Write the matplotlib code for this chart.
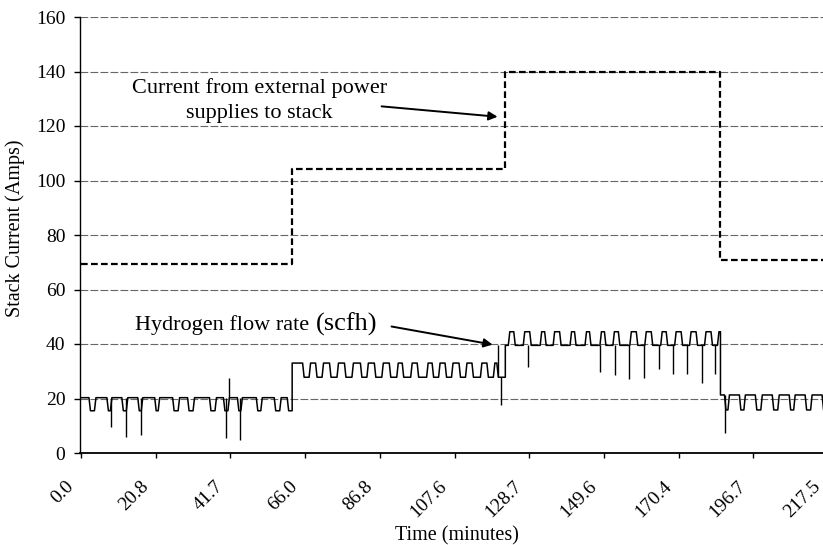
import matplotlib
matplotlib.use("Agg")
import matplotlib.pyplot as plt
from matplotlib.transforms import ScaledTranslation

plt.rcParams["font.family"] = ["Liberation Serif", "DejaVu Serif"]

# x axis is sample number; a tick every 75 samples, labelled with elapsed time
tick_pos = [0, 75, 150, 225, 300, 375, 450, 525, 600, 675, 750]
tick_lbl = ["0.0", "20.8", "41.7", "66.0", "86.8", "107.6", "128.7", "149.6", "170.4", "196.7", "217.5"]

# current from external power supplies (step changes)
cur_x = [0, 212, 426, 642, 760]
cur_y = [69.5, 104.3, 140.0, 70.7, 70.7]

# hydrogen flow: four plateaus, each with periodic notches / bumps
seg_start = [0, 212, 426, 642]
seg_end = [212, 426, 642, 760]
seg_base = [20.3, 27.8, 39.5, 21.3]
seg_alt = [15.5, 33.0, 44.5, 15.8]
seg1_spans = [(8, 15), (26, 31), (41, 47), (57, 62), (74, 79), (92, 99), (107, 114),
              (129, 136), (143, 149), (157, 162), (176, 182), (194, 201), (207, 212)]
seg2_spans = [(212, 224), (229, 237), (242, 251), (257, 266), (272, 282), (287, 296),
              (302, 311), (317, 324), (331, 339), (347, 354), (359, 367), (372, 381),
              (386, 394), (401, 409), (414, 419)]
seg3_spans = [(429, 436), (444, 452), (461, 467), (474, 482), (491, 497), (506, 512),
              (521, 527), (534, 541), (551, 559), (566, 574), (582, 589), (596, 604),
              (611, 619), (626, 634), (639, 642)]
seg4_spans = [(646, 651), (661, 667), (677, 684), (694, 701), (711, 717), (727, 734), (744, 750)]

# single-sample spikes in the flow signal
spike_x = [30, 45, 60, 146, 149, 160, 419, 422, 449, 521, 536, 550, 565, 580, 594, 608, 623, 637, 647]
spike_y = [9.5, 5.9, 6.6, 5.5, 27.5, 4.8, 39.5, 17.6, 31.6, 29.7, 28.6, 27.0, 27.5, 31.0, 29.0, 29.0, 25.7, 29.0, 7.5]


def wave(x0, x1, base, alt, spans, r=1.5):
    xs, ys = [x0], [base]
    for a, b in spans:
        if a <= x0:
            ys[0] = alt
        else:
            xs += [a, a + r]; ys += [base, alt]
        if b >= x1:
            xs.append(x1); ys.append(alt)
            return xs, ys
        xs += [b - r, b]; ys += [alt, base]
    xs.append(x1); ys.append(base)
    return xs, ys


fx, fy = [], []
for s0, s1, b, a, sp in zip(seg_start, seg_end, seg_base, seg_alt,
                            [seg1_spans, seg2_spans, seg3_spans, seg4_spans]):
    xs, ys = wave(s0, s1, b, a, sp)
    fx += xs; fy += ys

spike_from = []
for x in spike_x:
    for s0, s1, b in zip(seg_start, seg_end, seg_base):
        if s0 <= x < s1:
            spike_from.append(b)

fig = plt.figure(figsize=(8.23, 5.45), dpi=100)
ax = fig.add_axes([80 / 823, 92 / 545, 758 / 823, 436 / 545])

ax.plot(fx, fy, color="black", lw=1.1, zorder=3)
ax.vlines(spike_x, spike_from, spike_y, color="black", lw=1.0, zorder=3)
ax.step(cur_x, cur_y, where="post", color="black", lw=1.6, ls=(0, (3, 1.5)), zorder=3)

ax.set_xlim(-1, 760)
ax.set_ylim(0, 160)
ax.set_yticks(range(0, 161, 20))
ax.set_xticks(tick_pos)
ax.set_xticklabels([])
# rotated time labels, drawn by hand so they can sit left of their ticks
off = ScaledTranslation(-16 / 100, -25 / 100, fig.dpi_scale_trans)
for p, lbl in zip(tick_pos, tick_lbl):
    ax.text(p, 0, lbl, transform=ax.get_xaxis_transform() + off, fontsize=14,
            rotation=45, ha="right", va="top", rotation_mode="anchor", clip_on=False)
ax.tick_params(axis="y", labelsize=14, length=4.5, width=1, pad=6)
ax.tick_params(axis="x", length=3.5, width=1)

ax.yaxis.grid(True, color="#666666", lw=0.8, ls=(0, (7, 2)))
ax.set_axisbelow(True)
for sp in ("top", "right"):
    ax.spines[sp].set_visible(False)
ax.spines["left"].set_linewidth(1.0)
ax.spines["bottom"].set_linewidth(1.3)

ax.set_ylabel("Stack Current (Amps)", fontsize=14.5)
ax.yaxis.set_label_coords(-0.072, 0.516)
ax.set_xlabel("Time (minutes)", fontsize=14.5)
ax.xaxis.set_label_coords(0.497, -0.167)

# annotations
ax.text(179, 132.1, "Current from external power", fontsize=16, ha="center", va="baseline")
ax.text(179, 122.9, "supplies to stack", fontsize=16, ha="center", va="baseline")
ax.annotate("", xy=(421, 123.3), xytext=(299, 127.3),
            arrowprops=dict(arrowstyle="-|>", color="black", lw=1.4, mutation_scale=13))
ax.text(229, 45.0, "Hydrogen flow rate", fontsize=16, ha="right", va="baseline")
ax.text(236, 45.0, "(scfh)", fontsize=19, ha="left", va="baseline")
ax.annotate("", xy=(416, 39.6), xytext=(309, 46.6),
            arrowprops=dict(arrowstyle="-|>", color="black", lw=1.4, mutation_scale=13))

fig.savefig("out.png", dpi=100)
